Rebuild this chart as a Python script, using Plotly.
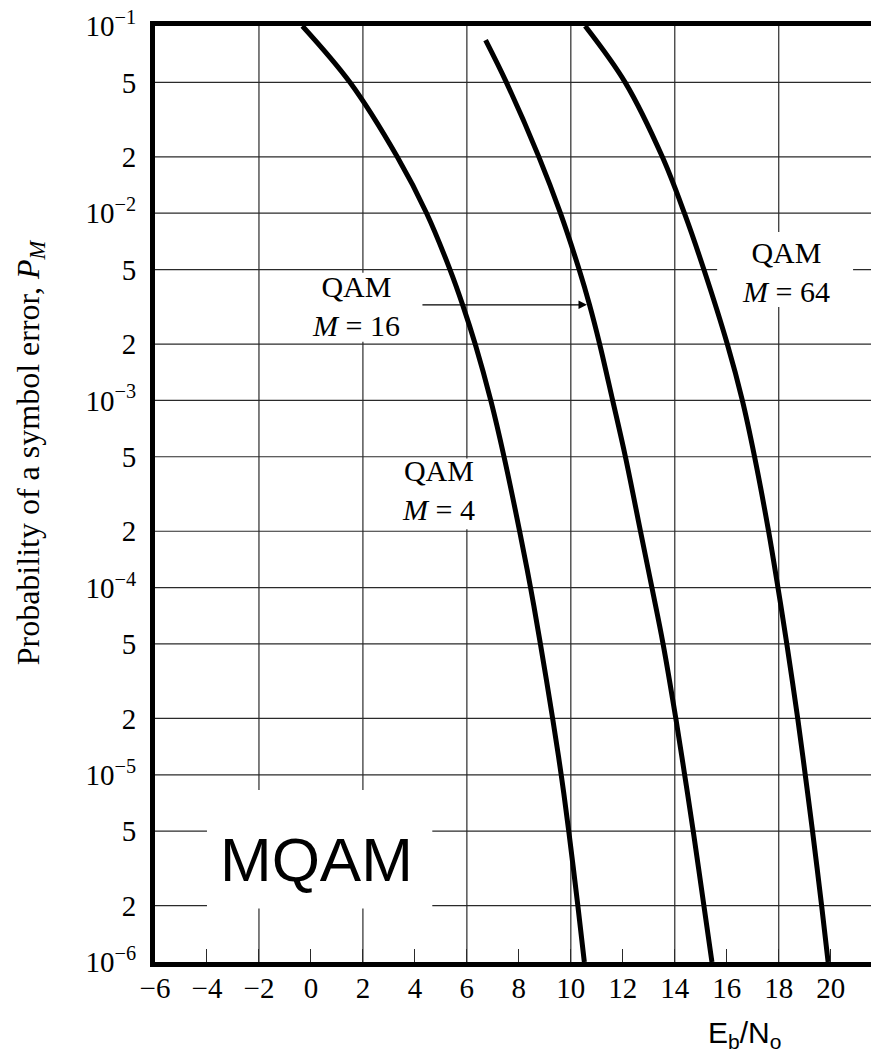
import numpy as np
import plotly.graph_objects as go

# ---- data ----
m4_x = [-0.33, 1.50, 3.32, 4.45, 5.35, 5.85, 6.32, 6.92, 7.43, 8.03, 8.45, 8.83, 9.30, 9.63, 9.92, 10.27, 10.52]
m4_y = [1e-1, 5e-2, 2e-2, 1e-2, 5e-3, 3.2e-3, 2e-3, 1e-3, 5e-4, 2e-4, 1e-4, 5e-5, 2e-5, 1e-5, 5e-6, 2e-6, 1e-6]

m16_x = [6.72, 7.52, 8.77, 9.60, 10.32, 10.72, 11.11, 11.61, 12.10, 12.68, 13.12, 13.55, 14.04, 14.38, 14.71, 15.12, 15.43]
m16_y = [8.4e-2, 5e-2, 2e-2, 1e-2, 5e-3, 3.24e-3, 2e-3, 1e-3, 5e-4, 2e-4, 1e-4, 5e-5, 2e-5, 1e-5, 5e-6, 2e-6, 1e-6]

m64_x = [10.55, 12.09, 13.52, 14.37, 15.12, 16.02, 16.60, 17.07, 17.61, 17.97, 18.31, 18.73, 19.02, 19.30, 19.65, 19.90]
m64_y = [1e-1, 5e-2, 2e-2, 1e-2, 5e-3, 2e-3, 1e-3, 5e-4, 2e-4, 1e-4, 5e-5, 2e-5, 1e-5, 5e-6, 2e-6, 1e-6]

x_tickvals = [-6, -4, -2, 0, 2, 4, 6, 8, 10, 12, 14, 16, 18, 20]
x_ticktext = ["\u22126", "\u22124", "\u22122", "0", "2", "4", "6", "8", "10", "12", "14", "16", "18", "20"]
x_gridvals = [-2, 2, 6, 10, 14, 18]

y_tickvals = [1e-6, 2e-6, 5e-6, 1e-5, 2e-5, 5e-5, 1e-4, 2e-4, 5e-4, 1e-3, 2e-3, 5e-3, 1e-2, 2e-2, 5e-2, 1e-1]
y_ticktext = ["10<sup>\u22126</sup>", "2", "5", "10<sup>\u22125</sup>", "2", "5",
              "10<sup>\u22124</sup>", "2", "5", "10<sup>\u22123</sup>", "2", "5",
              "10<sup>\u22122</sup>", "2", "5", "10<sup>\u22121</sup>"]

Y_LOG = (-6, -1)
X_RANGE = (-6, 21.55)


def yp(v):
    return (np.log10(v) - Y_LOG[0]) / (Y_LOG[1] - Y_LOG[0])


serif = "Liberation Serif, Times New Roman, serif"
sans = "Liberation Sans, Arial, sans-serif"
GRID = dict(color="#2a2a2a", width=1.2)

fig = go.Figure()
for xs, ys in [(m4_x, m4_y), (m16_x, m16_y), (m64_x, m64_y)]:
    fig.add_trace(go.Scatter(x=xs, y=ys, mode="lines",
                             line=dict(color="black", width=5, shape="spline", smoothing=1.0),
                             showlegend=False, hoverinfo="skip"))

shapes = []
# grid lines (as shapes so the label boxes can hide them)
for gy in y_tickvals[1:-1]:
    shapes.append(dict(type="line", xref="paper", yref="paper", x0=0, x1=1, y0=yp(gy), y1=yp(gy),
                       line=GRID, layer="below"))
for gx in x_gridvals:
    shapes.append(dict(type="line", xref="x", yref="paper", x0=gx, x1=gx, y0=0, y1=1,
                       line=GRID, layer="below"))

# white label boxes (drawn after the grid, under the curves)
boxes = [
    (-4.0, 4.67, 1.93e-6, 8.3e-6),     # MQAM
    (-0.41, 4.01, 2.06e-3, 4.8e-3),    # QAM M=16
    (2.87, 6.98, 2.05e-4, 4.9e-4),     # QAM M=4
    (15.63, 20.86, 3.15e-3, 7.94e-3),  # QAM M=64
]
for x0, x1, y0, y1 in boxes:
    shapes.append(dict(type="rect", xref="x", yref="paper", x0=x0, x1=x1, y0=yp(y0), y1=yp(y1),
                       fillcolor="white", line=dict(width=0), layer="below"))

lab_font = dict(family=serif, size=30, color="black")
annotations = [
    dict(x=1.74, y=yp(3.19e-3), xref="x", yref="paper", text="QAM<br><i>M</i> = 16",
         showarrow=False, font=lab_font, align="center", xanchor="center", yanchor="middle"),
    dict(x=4.90, y=yp(3.32e-4), xref="x", yref="paper", text="QAM<br><i>M</i> = 4",
         showarrow=False, font=lab_font, align="center", xanchor="center", yanchor="middle"),
    dict(x=18.28, y=yp(4.85e-3), xref="x", yref="paper", text="QAM<br><i>M</i> = 64",
         showarrow=False, font=lab_font, align="center", xanchor="center", yanchor="middle"),
    # arrow pointing to M=16 curve
    dict(x=10.62, y=yp(3.24e-3), xref="x", yref="paper", text="", showarrow=True,
         ax=-166, ay=0, arrowhead=2, arrowsize=1.3, arrowwidth=1.3, arrowcolor="black", standoff=0),
    # big MQAM label
    dict(x=0.2252, y=0.110, xref="paper", yref="paper", text="MQAM", showarrow=False,
         xanchor="center", yanchor="middle",
         font=dict(family=sans, size=62, color="black")),
    # x title
    dict(x=0.8227, y=-0.0556, xref="paper", yref="paper", text="E<sub>b</sub>/N<sub>o</sub>",
         showarrow=False, xanchor="center", yanchor="top",
         font=dict(family=sans, size=30, color="black")),
    # y title
    dict(x=-0.174, y=0.545, xref="paper", yref="paper",
         text="Probability of a symbol error, <i>P</i><sub><i>M</i></sub>",
         textangle=-90, showarrow=False, xanchor="center", yanchor="middle",
         font=dict(family=serif, size=32, color="black")),
]

fig.update_layout(
    width=871, height=1055,
    margin=dict(l=155, r=0, t=26, b=93, pad=0),
    paper_bgcolor="white", plot_bgcolor="white",
    shapes=shapes, annotations=annotations,
    xaxis=dict(range=list(X_RANGE), tickvals=x_tickvals, ticktext=x_ticktext,
               showgrid=False, zeroline=False, showline=True, linecolor="black", linewidth=4.5,
               mirror=True, ticks="inside", ticklen=13, tickwidth=1.2, tickcolor="#2a2a2a",
               ticklabelstandoff=-4,
               tickfont=dict(family=serif, size=29, color="black")),
    yaxis=dict(type="log", range=list(Y_LOG), tickvals=y_tickvals, ticktext=y_ticktext,
               showgrid=False, zeroline=False,
               showline=True, linecolor="black", linewidth=5, ticks="",
               ticklabelstandoff=8,
               tickfont=dict(family=serif, size=29, color="black")),
)

fig.write_html("out.html", config={"displayModeBar": False},
               post_script="document.body.style.margin='0';document.body.style.overflow='hidden';")
